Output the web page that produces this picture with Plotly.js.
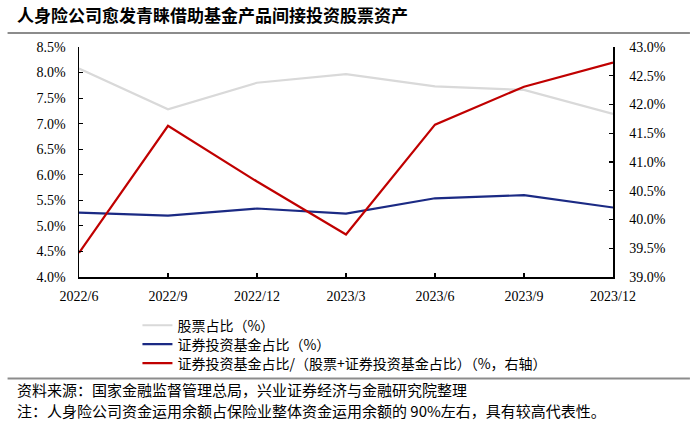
<!DOCTYPE html>
<html>
<head>
<meta charset="utf-8">
<script src="https://cdn.plot.ly/plotly-3.0.1.min.js"></script>
<style>html,body{margin:0;padding:0;background:#fff;}#chart{width:700px;height:428px;}</style>
</head>
<body>
<div id="chart"></div>
<script>
var categories = ["2022/6", "2022/9", "2022/12", "2023/3", "2023/6", "2023/9", "2023/12"];
var stockShare = [8.08, 7.28, 7.80, 7.97, 7.73, 7.66, 7.19];
var fundShare = [5.26, 5.20, 5.34, 5.24, 5.54, 5.60, 5.36];
var fundRatio = [39.42, 41.63, 40.66, 39.74, 41.65, 42.31, 42.73];
var seriesNames = ["股票占比（%）", "证券投资基金占比（%）", "证券投资基金占比/（股票+证券投资基金占比）（%，右轴）"];
var leftTicks = [4.0, 4.5, 5.0, 5.5, 6.0, 6.5, 7.0, 7.5, 8.0, 8.5];
var rightTicks = [39.0, 39.5, 40.0, 40.5, 41.0, 41.5, 42.0, 42.5, 43.0];

var cjk = 'Noto Sans CJK SC, sans-serif';
var num = 'Liberation Serif, Times New Roman, DejaVu Serif, serif';

var T = 47, B = 277.3, L = 78.5, R = 613;
function py(p) { return (B - p) / (B - T); }
function px(p) { return (p - L) / (R - L); }

var traces = [
  {x: categories, y: stockShare, name: seriesNames[0], type: 'scatter', mode: 'lines',
   line: {color: '#d9d9d9', width: 2.2}, yaxis: 'y', legend: 'legend'},
  {x: categories, y: fundShare, name: seriesNames[1], type: 'scatter', mode: 'lines',
   line: {color: '#1b2a84', width: 2.2}, yaxis: 'y', legend: 'legend2'},
  {x: categories, y: fundRatio, name: seriesNames[2], type: 'scatter', mode: 'lines',
   line: {color: '#c00000', width: 2.2}, yaxis: 'y2', legend: 'legend3'}
];

function leg(yc) {
  return {x: px(137), xanchor: 'left', y: py(yc), yanchor: 'middle', orientation: 'v',
          font: {family: cjk, size: 14, color: '#000'}, bgcolor: 'rgba(0,0,0,0)',
          borderwidth: 0, itemwidth: 30};
}

var layout = {
  width: 700, height: 428,
  paper_bgcolor: '#fff', plot_bgcolor: '#fff',
  margin: {l: L, r: 700 - R, t: T, b: 428 - B, pad: 0},
  showlegend: true,
  font: {family: num, size: 14, color: '#000'},
  title: {text: '<b>人身险公司愈发青睐借助基金产品间接投资股票资产</b>', x: 17/700, xanchor: 'left', xref: 'container',
          y: 1 - 16/428, yanchor: 'middle', yref: 'container',
          font: {family: cjk, size: 17, color: '#000'}},
  xaxis: {type: 'category', range: [0, 6], showgrid: false, zeroline: false,
          showline: true, linecolor: '#000', linewidth: 1.5,
          ticks: 'inside', ticklen: 4, tickcolor: '#000', tickwidth: 1.2, ticklabelstandoff: 6,
          tickfont: {family: num, size: 14, color: '#000'}, fixedrange: true},
  yaxis: {range: [4.0, 8.5], tickvals: leftTicks, ticktext: leftTicks.map(function(v){return v.toFixed(1) + '%';}),
          showgrid: false, zeroline: false, showline: true, linecolor: '#000', linewidth: 1.5,
          ticks: 'inside', ticklen: 4, tickcolor: '#000', tickwidth: 1.2, ticklabelstandoff: 9,
          tickfont: {family: num, size: 14, color: '#000'}},
  yaxis2: {range: [39.0, 43.0], tickvals: rightTicks, ticktext: rightTicks.map(function(v){return v.toFixed(1) + '%';}),
           overlaying: 'y', side: 'right', showgrid: false, zeroline: false,
           showline: true, linecolor: '#000', linewidth: 1.5,
           ticks: 'inside', ticklen: 4, tickcolor: '#000', tickwidth: 1.2, ticklabelstandoff: 12,
           tickfont: {family: num, size: 14, color: '#000'}},
  legend: leg(326),
  legend2: leg(345),
  legend3: leg(364),
  shapes: [
    {type: 'line', xref: 'paper', yref: 'paper', x0: px(7), x1: px(690), y0: py(33), y1: py(33),
     line: {color: '#8c8c8c', width: 2}},
    {type: 'line', xref: 'paper', yref: 'paper', x0: px(7), x1: px(690), y0: py(379), y1: py(379),
     line: {color: '#8c8c8c', width: 2}}
  ],
  annotations: [
    {text: '资料来源：国家金融监督管理总局，兴业证券经济与金融研究院整理', xref: 'paper', yref: 'paper',
     x: px(14), xanchor: 'left', y: py(390), yanchor: 'middle', showarrow: false,
     font: {family: cjk, size: 15, color: '#000'}},
    {text: '注：人身险公司资金运用余额占保险业整体资金运用余额的 90%左右，具有较高代表性。', xref: 'paper', yref: 'paper',
     x: px(14), xanchor: 'left', y: py(411), yanchor: 'middle', showarrow: false,
     font: {family: cjk, size: 15, color: '#000'}}
  ]
};

Plotly.newPlot('chart', traces, layout, {displayModeBar: false, staticPlot: true});
</script>
</body>
</html>
